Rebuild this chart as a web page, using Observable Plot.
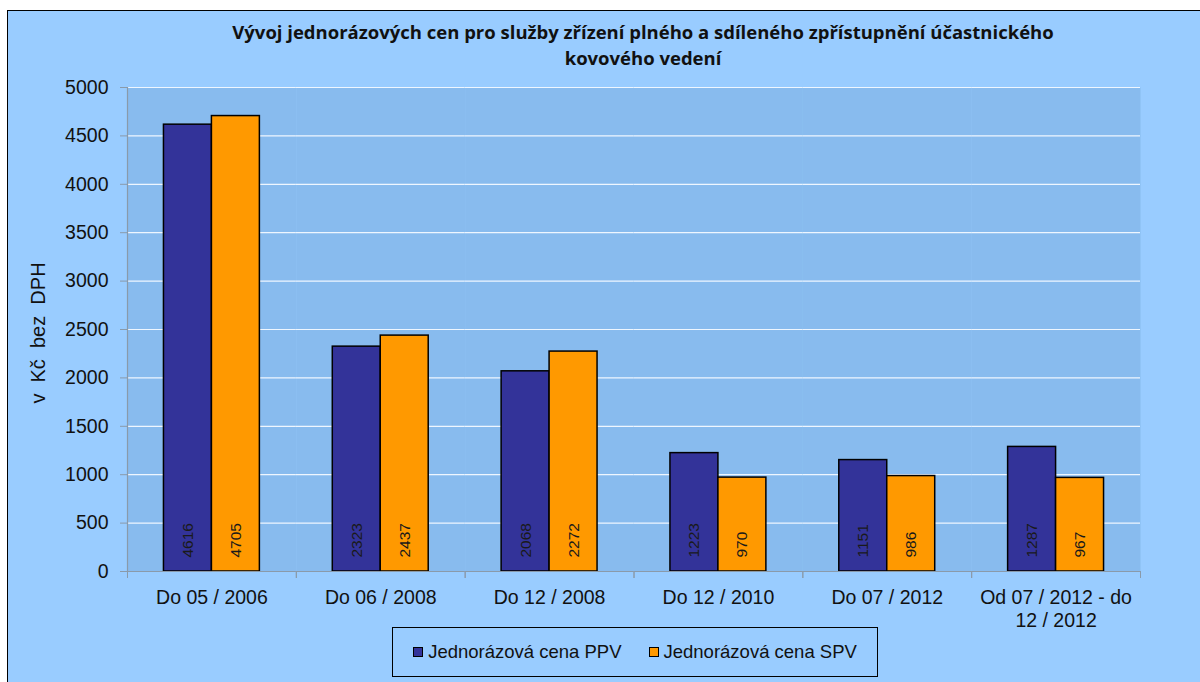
<!DOCTYPE html>
<html>
<head>
<meta charset="utf-8">
<script src="https://cdn.jsdelivr.net/npm/d3@7"></script>
<script src="https://cdn.jsdelivr.net/npm/@observablehq/plot@0.6"></script>
<style>
  html, body { margin:0; padding:0; background:#fff; width:1200px; height:682px; overflow:hidden; }
  #frame { position:absolute; left:7px; top:10px; width:1210px; height:690px; border-left:1.5px solid #000; border-top:1.5px solid #000; background:#99ccff; }
  #title { position:absolute; left:143px; width:1000px; top:19px; text-align:center; font-family:"Open Sans", Lato, sans-serif; font-weight:700; font-size:18.5px; line-height:26px; color:#111; }
  #ylab { position:absolute; left:38px; top:333px; transform:translate(-50%,-50%) rotate(-90deg); white-space:pre; font-family:"Liberation Sans", Arial, sans-serif; font-size:20px; color:#111; }
  #chart { position:absolute; left:0; top:0; }
  #legend { position:absolute; left:392px; top:627px; width:484px; height:48px; border:1.5px solid #000; display:flex; align-items:center; justify-content:center; gap:27px; font-family:"Liberation Sans", Arial, sans-serif; font-size:18.5px; color:#111; }
  .item { display:flex; align-items:center; }
  .sw { width:8px; height:8px; border:1px solid #000; margin-right:5px; }
</style>
</head>
<body>
<div id="frame"></div>
<div id="title">Vývoj jednorázových cen pro služby zřízení plného a sdíleného zpřístupnění účastnického<br>kovového vedení</div>
<div id="chart"></div>
<div id="ylab">v  Kč  bez  DPH</div>
<div id="legend"></div>
<script>
const categories = ["Do 05 / 2006", "Do 06 / 2008", "Do 12 / 2008", "Do 12 / 2010", "Do 07 / 2012", "Od 07 / 2012 - do\n12 / 2012"];
const seriesNames = ["Jednorázová cena PPV", "Jednorázová cena SPV"];
const seriesColors = ["#333399", "#ff9900"];
const ppv = [4616, 2323, 2068, 1223, 1151, 1287];
const spv = [4705, 2437, 2272, 970, 986, 967];
const yTicks = [0, 500, 1000, 1500, 2000, 2500, 3000, 3500, 4000, 4500, 5000];

const data = categories.flatMap((c, i) => [
  {cat: c, series: seriesNames[0], value: ppv[i]},
  {cat: c, series: seriesNames[1], value: spv[i]}
]);

const chart = Plot.plot({
  width: 1200,
  height: 640,
  marginTop: 87,
  marginLeft: 127,
  marginRight: 60,
  marginBottom: 69,
  style: {background: "transparent", fontFamily: "'Liberation Sans', Arial, sans-serif", fontSize: "19.5px", color: "#111", overflow: "visible"},
  fx: {domain: categories, padding: 0, round: false, label: null, axis: null},
  x: {domain: seriesNames, paddingInner: 0, paddingOuter: 0.76, round: false, axis: null},
  y: {domain: [0, 5000], label: null},
  color: {domain: seriesNames, range: seriesColors},
  marks: [
    Plot.frame({fill: "#88bbee", stroke: null}),
    Plot.gridY(yTicks.slice(1), {stroke: "#eef6ff", strokeOpacity: 1, strokeWidth: 1.2}),
    Plot.barY(data, {fx: "cat", x: "series", y: "value", fill: "series", stroke: "#000", strokeWidth: 1.5}),
    Plot.text(data, {fx: "cat", x: "series", y: 0, text: d => String(d.value), rotate: -90, textAnchor: "start", lineAnchor: "middle", dy: -14, fontSize: 15.5, fill: "#1a1a1a"}),
    Plot.ruleY([0], {stroke: "#8a9aaa", strokeWidth: 1.2}),
    Plot.axisY(yTicks, {tickSize: 7, tickPadding: 12, stroke: "#8a9aaa", label: null, tickFormat: d => String(d)}),
    Plot.axisFx({anchor: "bottom", tickSize: 0, tickPadding: 17, lineHeight: 1.15, label: null}),
    Plot.frame({anchor: "left", insetTop: 484, insetBottom: -6, stroke: "#8a9aaa"}),
    Plot.frame({anchor: "right", insetTop: 484, insetBottom: -6, stroke: "#8a9aaa"}),
    Plot.frame({anchor: "left", facetAnchor: "left", stroke: "#8a9aaa", strokeWidth: 1.2})
  ]
});
document.getElementById("chart").appendChild(chart);

const legend = document.getElementById("legend");
seriesNames.forEach((s, i) => {
  const it = document.createElement("div");
  it.className = "item";
  const sw = document.createElement("div");
  sw.className = "sw";
  sw.style.background = seriesColors[i];
  const t = document.createElement("span");
  t.textContent = s;
  it.appendChild(sw);
  it.appendChild(t);
  legend.appendChild(it);
});
</script>
</body>
</html>
